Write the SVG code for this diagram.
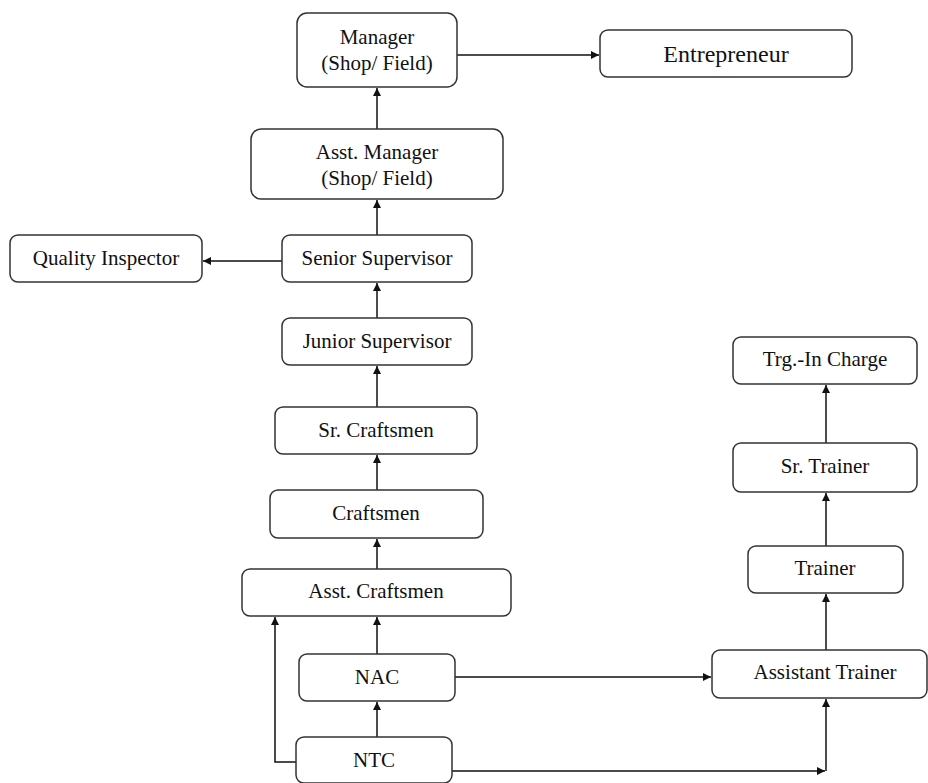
<svg xmlns="http://www.w3.org/2000/svg" width="928" height="783" viewBox="0 0 928 783">
<style>
.box{fill:#fff;stroke:#333;stroke-width:1.5}
.t{font-family:"Liberation Serif","Times New Roman",serif;font-size:21px;fill:#111;text-anchor:middle}
.big{font-size:24px}
.c{fill:none;stroke:#111;stroke-width:1.5}
</style>
<defs>
<marker id="ah" viewBox="0 0 10 10" refX="10" refY="5" markerWidth="8" markerHeight="8" markerUnits="userSpaceOnUse" orient="auto">
<path d="M0,0 L10,5 L0,10 z" fill="#111"/>
</marker>
</defs>
<rect width="928" height="783" fill="#fff"/>
<g id="connectors">
<line class="c" x1="457" y1="55" x2="599" y2="55" marker-end="url(#ah)"/>
<line class="c" x1="377" y1="129" x2="377" y2="88" marker-end="url(#ah)"/>
<line class="c" x1="377" y1="235" x2="377" y2="200" marker-end="url(#ah)"/>
<line class="c" x1="282" y1="261" x2="203" y2="261" marker-end="url(#ah)"/>
<line class="c" x1="377" y1="318" x2="377" y2="283" marker-end="url(#ah)"/>
<line class="c" x1="377" y1="407" x2="377" y2="366" marker-end="url(#ah)"/>
<line class="c" x1="377" y1="490" x2="377" y2="455" marker-end="url(#ah)"/>
<line class="c" x1="377" y1="569" x2="377" y2="539" marker-end="url(#ah)"/>
<line class="c" x1="377" y1="654" x2="377" y2="617" marker-end="url(#ah)"/>
<line class="c" x1="377" y1="737" x2="377" y2="702" marker-end="url(#ah)"/>
<polyline class="c" points="296,762 275,762 275,617" marker-end="url(#ah)"/>
<line class="c" x1="455" y1="677" x2="711" y2="677" marker-end="url(#ah)"/>
<line class="c" x1="452" y1="771" x2="825" y2="771" marker-end="url(#ah)"/>
<line class="c" x1="826" y1="771" x2="826" y2="699" marker-end="url(#ah)"/>
<line class="c" x1="826" y1="650" x2="826" y2="594" marker-end="url(#ah)"/>
<line class="c" x1="826" y1="546" x2="826" y2="493" marker-end="url(#ah)"/>
<line class="c" x1="826" y1="443" x2="826" y2="385" marker-end="url(#ah)"/>
</g>
<g id="manager"><rect class="box" x="297" y="13" width="160" height="74" rx="10"/><text class="t" x="377" y="44">Manager</text><text class="t" x="377" y="70">(Shop/ Field)</text></g>
<g id="entrepreneur"><rect class="box" x="600" y="30" width="252" height="47" rx="8"/><text class="t big" x="726" y="62">Entrepreneur</text></g>
<g id="asst-manager"><rect class="box" x="251" y="129" width="252" height="70" rx="10"/><text class="t" x="377" y="159">Asst. Manager</text><text class="t" x="377" y="185">(Shop/ Field)</text></g>
<g id="senior-supervisor"><rect class="box" x="282" y="235" width="190" height="47" rx="8"/><text class="t" x="377" y="265">Senior Supervisor</text></g>
<g id="quality-inspector"><rect class="box" x="10" y="235" width="192" height="47" rx="8"/><text class="t" x="106" y="265">Quality Inspector</text></g>
<g id="junior-supervisor"><rect class="box" x="282" y="318" width="190" height="47" rx="8"/><text class="t" x="377" y="348">Junior Supervisor</text></g>
<g id="sr-craftsmen"><rect class="box" x="275" y="407" width="202" height="47" rx="8"/><text class="t" x="376" y="437">Sr. Craftsmen</text></g>
<g id="craftsmen"><rect class="box" x="270" y="490" width="213" height="48" rx="8"/><text class="t" x="376" y="520">Craftsmen</text></g>
<g id="asst-craftsmen"><rect class="box" x="242" y="569" width="269" height="47" rx="8"/><text class="t" x="376" y="598">Asst. Craftsmen</text></g>
<g id="nac"><rect class="box" x="299" y="654" width="156" height="47" rx="8"/><text class="t" x="377" y="684">NAC</text></g>
<g id="ntc"><rect class="box" x="296" y="737" width="156" height="46" rx="8"/><text class="t" x="374" y="767">NTC</text></g>
<g id="trg-in-charge"><rect class="box" x="733" y="337" width="184" height="47" rx="8"/><text class="t" x="825" y="366">Trg.-In Charge</text></g>
<g id="sr-trainer"><rect class="box" x="733" y="443" width="184" height="49" rx="8"/><text class="t" x="825" y="473">Sr. Trainer</text></g>
<g id="trainer"><rect class="box" x="748" y="546" width="155" height="47" rx="8"/><text class="t" x="825" y="575">Trainer</text></g>
<g id="assistant-trainer"><rect class="box" x="712" y="650" width="215" height="48" rx="8"/><text class="t" x="825" y="679">Assistant Trainer</text></g>
</svg>
